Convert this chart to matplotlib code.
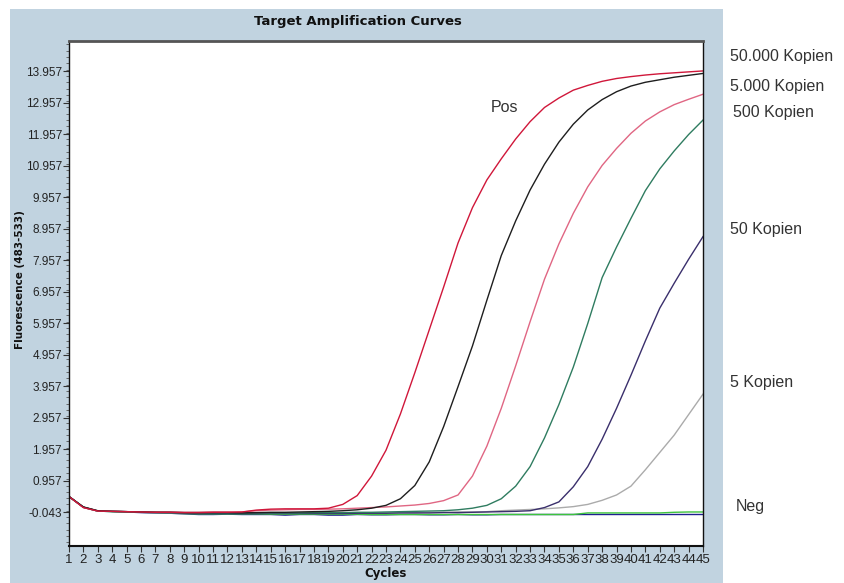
import matplotlib
matplotlib.use("Agg")
import matplotlib.pyplot as plt
from matplotlib.patches import Rectangle
from matplotlib.ticker import MultipleLocator

cycles = list(range(1, 46))

pos_50000 = [0.45, 0.10, -0.01, -0.02, -0.03, -0.04, -0.05, -0.05, -0.06, -0.06,
             -0.05, -0.05, -0.04, 0.02, 0.05, 0.06, 0.06, 0.06, 0.08, 0.20,
             0.48, 1.10, 1.92, 3.07, 4.38, 5.74, 7.10, 8.50, 9.62, 10.50,
             11.17, 11.80, 12.35, 12.80, 13.10, 13.35, 13.50, 13.63, 13.72, 13.78,
             13.83, 13.87, 13.90, 13.93, 13.96]
k_5000 = [0.45, 0.12, 0.00, -0.02, -0.03, -0.04, -0.05, -0.05, -0.06, -0.06,
          -0.06, -0.06, -0.07, -0.06, -0.05, -0.05, -0.04, -0.03, -0.02, 0.00,
          0.03, 0.08, 0.17, 0.38, 0.80, 1.55, 2.67, 3.94, 5.23, 6.68,
          8.10, 9.20, 10.18, 11.00, 11.70, 12.27, 12.72, 13.05, 13.30, 13.48,
          13.60, 13.68, 13.76, 13.82, 13.88]
k_500 = [0.45, 0.10, -0.01, -0.02, -0.03, -0.04, -0.04, -0.04, -0.05, -0.05,
         -0.04, -0.04, -0.04, 0.00, 0.02, 0.03, 0.04, 0.04, 0.05, 0.06,
         0.08, 0.10, 0.12, 0.15, 0.18, 0.23, 0.32, 0.50, 1.10, 2.05,
         3.25, 4.60, 6.00, 7.35, 8.47, 9.44, 10.28, 10.96, 11.50, 11.98,
         12.37, 12.66, 12.89, 13.06, 13.22]
k_50 = [0.45, 0.11, -0.01, -0.02, -0.03, -0.04, -0.05, -0.06, -0.07, -0.07,
        -0.07, -0.07, -0.07, -0.07, -0.07, -0.07, -0.07, -0.06, -0.06, -0.06,
        -0.05, -0.05, -0.04, -0.03, -0.02, -0.01, 0.00, 0.03, 0.08, 0.17,
        0.38, 0.78, 1.40, 2.31, 3.37, 4.56, 5.94, 7.40, 8.37, 9.28,
        10.16, 10.85, 11.42, 11.94, 12.40]
k_5_purple = [0.45, 0.11, -0.01, -0.02, -0.03, -0.05, -0.06, -0.07, -0.08, -0.09,
              -0.09, -0.09, -0.09, -0.09, -0.09, -0.09, -0.09, -0.09, -0.09, -0.09,
              -0.08, -0.08, -0.08, -0.07, -0.07, -0.07, -0.06, -0.06, -0.05, -0.04,
              -0.03, -0.02, 0.00, 0.10, 0.28, 0.76, 1.40, 2.27, 3.25, 4.30,
              5.39, 6.43, 7.22, 7.98, 8.70]
k_5_gray = [0.45, 0.11, -0.01, -0.02, -0.03, -0.05, -0.06, -0.07, -0.08, -0.08,
            -0.08, -0.08, -0.08, -0.08, -0.08, -0.08, -0.08, -0.08, -0.08, -0.08,
            -0.07, -0.07, -0.07, -0.06, -0.06, -0.05, -0.05, -0.04, -0.04, -0.03,
            0.00, 0.02, 0.04, 0.06, 0.09, 0.13, 0.20, 0.33, 0.50, 0.78,
            1.30, 1.85, 2.40, 3.05, 3.70]
neg_navy = [0.45, 0.11, -0.01, -0.03, -0.04, -0.06, -0.07, -0.08, -0.10, -0.12,
            -0.12, -0.11, -0.12, -0.12, -0.12, -0.14, -0.12, -0.12, -0.14, -0.14,
            -0.12, -0.13, -0.13, -0.12, -0.12, -0.13, -0.13, -0.12, -0.13, -0.13,
            -0.12, -0.12, -0.12, -0.12, -0.12, -0.12, -0.12, -0.12, -0.12, -0.12,
            -0.12, -0.12, -0.12, -0.12, -0.12]
neg_green = [0.45, 0.11, -0.01, -0.03, -0.04, -0.05, -0.06, -0.08, -0.09, -0.10,
             -0.10, -0.10, -0.10, -0.10, -0.11, -0.11, -0.11, -0.11, -0.11, -0.11,
             -0.11, -0.12, -0.12, -0.12, -0.12, -0.12, -0.12, -0.12, -0.12, -0.12,
             -0.12, -0.12, -0.12, -0.12, -0.12, -0.12, -0.07, -0.07, -0.07, -0.07,
             -0.07, -0.07, -0.05, -0.04, -0.04]

ytick_values = [-0.043, 0.957, 1.957, 2.957, 3.957, 4.957, 5.957, 6.957,
                7.957, 8.957, 9.957, 10.957, 11.957, 12.957, 13.957]
ytick_labels = ["-0.043", "0.957", "1.957", "2.957", "3.957", "4.957", "5.957",
                "6.957", "7.957", "8.957", "9.957", "10.957", "11.957",
                "12.957", "13.957"]

right_labels = ["50.000 Kopien", "5.000 Kopien", "500 Kopien", "50 Kopien",
                "5 Kopien", "Neg"]

W, H = 845, 583
fig = plt.figure(figsize=(W / 100, H / 100), dpi=100)
fig.patch.set_facecolor("white")

# light-blue panel
fig.patches.append(Rectangle((10 / W, 0), (723 - 10) / W, 1 - 9 / H,
                             transform=fig.transFigure, facecolor="#c1d3e0",
                             edgecolor="none", zorder=-5))

ax = fig.add_axes([69 / W, 1 - 546 / H, (703 - 69) / W, (546 - 41) / H])
ax.set_zorder(2)
ax.set_facecolor("white")

series = [
    (neg_navy, "#1f1f8f"),
    (neg_green, "#3dc43d"),
    (k_5_gray, "#ababab"),
    (k_5_purple, "#3a2f6c"),
    (k_50, "#2f7c60"),
    (k_500, "#e06683"),
    (k_5000, "#1e1e1e"),
    (pos_50000, "#d0173a"),
]
for vals, col in series:
    ax.plot(cycles, vals, color=col, lw=1.0)

ax.set_xlim(1, 45)
ax.set_ylim(-1.12, 14.91)
ax.set_xticks(cycles)
ax.set_xticklabels([str(c) for c in cycles], fontsize=9.5,
                   family="Liberation Sans", color="#222222")
ax.set_yticks(ytick_values)
ax.set_yticklabels(ytick_labels, fontsize=8.5, family="Liberation Sans",
                   color="#222222")
ax.yaxis.set_minor_locator(MultipleLocator(0.2))
ax.tick_params(axis="x", length=4, width=0.8, pad=2, color="#333333")
ax.tick_params(axis="y", which="major", length=4, width=0.8, pad=1,
               color="#333333")
ax.tick_params(axis="y", which="minor", length=2, width=0.6, color="#555555")

for side in ["left", "right", "bottom"]:
    ax.spines[side].set_color("#111111")
    ax.spines[side].set_linewidth(1.0)
ax.spines["bottom"].set_linewidth(1.5)
ax.spines["top"].set_color("#555555")
ax.spines["top"].set_linewidth(2.0)

fig.text(358 / W, 1 - 22 / H, "Target Amplification Curves", ha="center",
         va="center", fontsize=9.5, fontweight="heavy", family="DejaVu Sans",
         color="#111111")
fig.text(386 / W, 1 - 574 / H, "Cycles", ha="center", va="center",
         fontsize=8.5, fontweight="bold", family="DejaVu Sans", color="#111111")
fig.text(20 / W, 1 - 280 / H, "Fluorescence (483-533)", ha="center",
         va="center", rotation=90, fontsize=7.5, fontweight="bold",
         family="DejaVu Sans", color="#111111")

label_pos = [(730, 57), (730, 86), (733, 113), (730, 229), (730, 383), (736, 507)]
for txt, (px, py) in zip(right_labels, label_pos):
    fig.text(px / W, 1 - py / H, txt, ha="left", va="center", fontsize=11.5,
             family="Liberation Sans", color="#333333")
fig.text(491 / W, 1 - 107 / H, "Pos", ha="left", va="center", fontsize=11.5,
         family="Liberation Sans", color="#333333")

fig.savefig("out.png", dpi=100, facecolor="white")
